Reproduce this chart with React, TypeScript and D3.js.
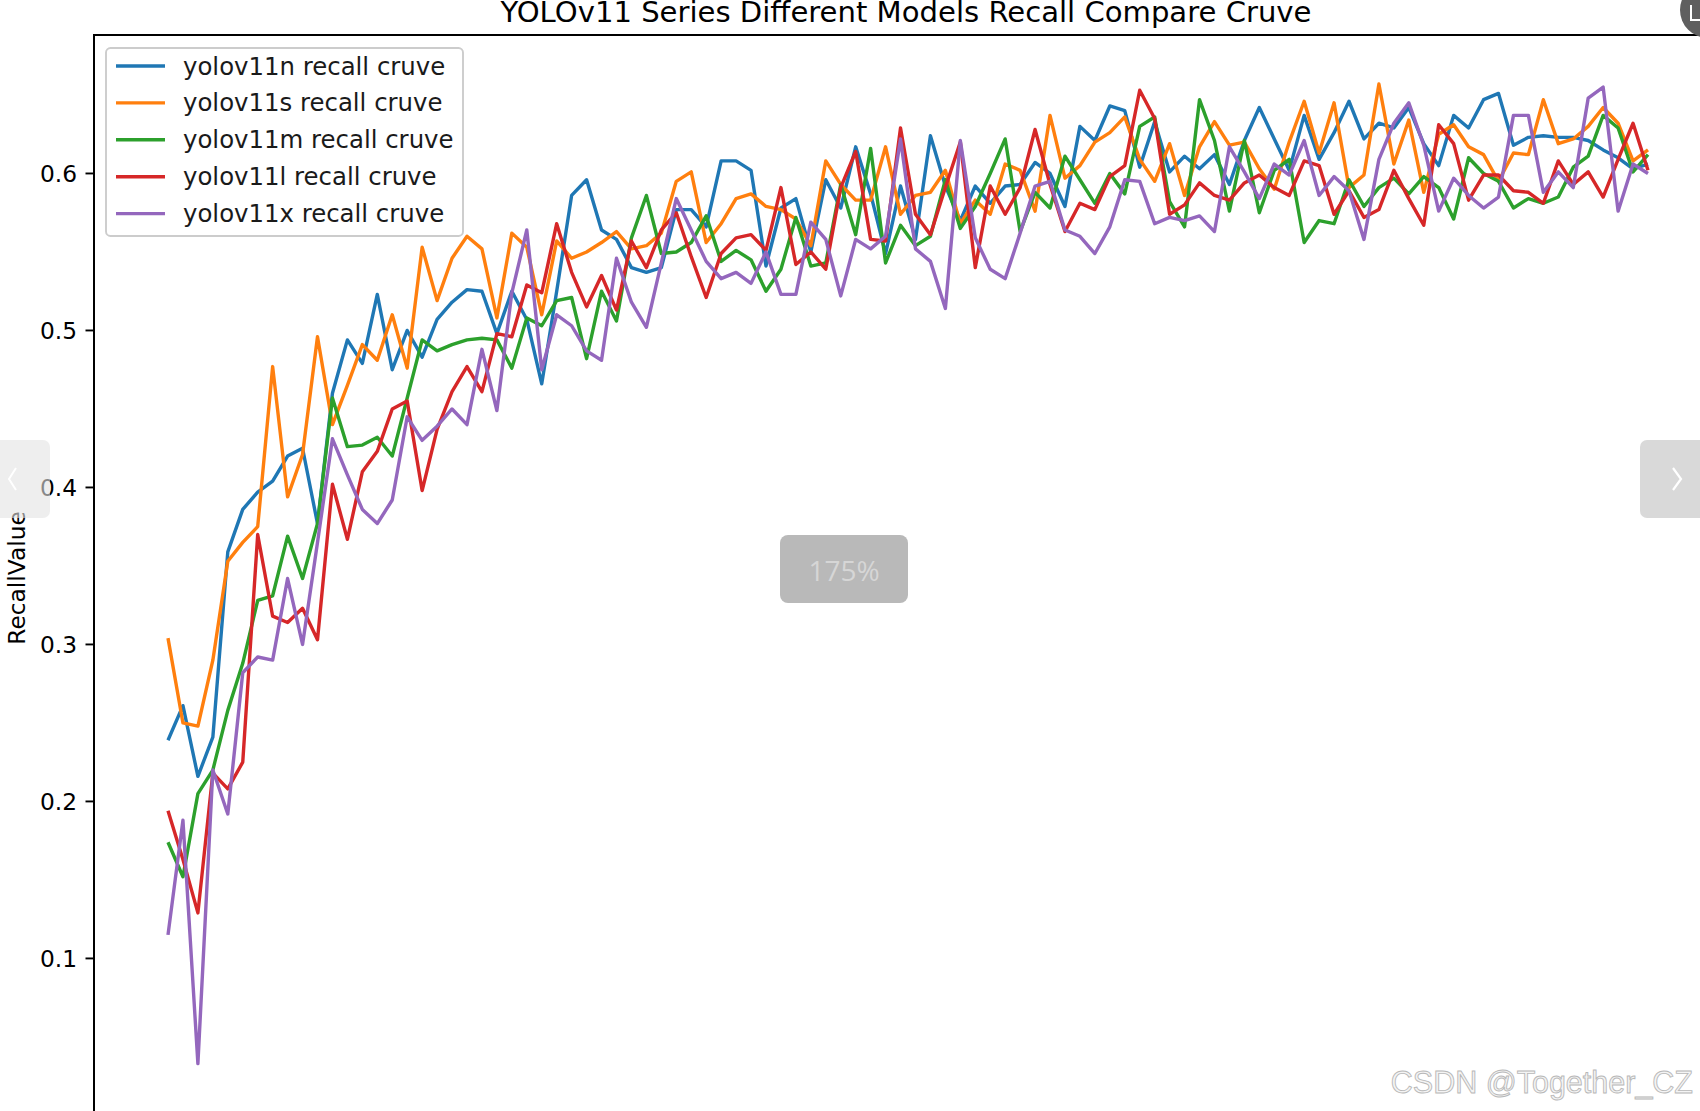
import React from "react";
import * as d3 from "d3";

const epochs: number[] = Array.from({ length: 100 }, (_, i) => i);

const yolov11n = [0.239,0.261,0.216,0.241,0.359,0.386,0.397,0.404,0.420,0.425,
0.377,0.460,0.494,0.479,0.523,0.475,0.500,0.483,0.507,0.518,
0.526,0.525,0.498,0.525,0.507,0.466,0.525,0.586,0.596,0.564,
0.558,0.540,0.537,0.540,0.577,0.577,0.566,0.608,0.608,0.602,
0.541,0.578,0.584,0.550,0.596,0.578,0.617,0.587,0.549,0.592,
0.558,0.624,0.592,0.570,0.592,0.581,0.592,0.593,0.607,0.600,
0.579,0.630,0.621,0.643,0.640,0.604,0.633,0.601,0.611,0.603,
0.612,0.593,0.621,0.642,0.622,0.602,0.637,0.609,0.626,0.646,
0.622,0.632,0.629,0.642,0.619,0.605,0.637,0.629,0.647,0.651,
0.618,0.623,0.624,0.623,0.623,0.621,0.615,0.610,0.603,0.606];

const yolov11s = [0.304,0.250,0.248,0.290,0.353,0.365,0.375,0.477,0.394,0.421,
0.496,0.440,0.465,0.491,0.481,0.510,0.476,0.553,0.519,0.546,
0.560,0.552,0.508,0.562,0.553,0.510,0.557,0.546,0.550,0.556,
0.563,0.552,0.554,0.562,0.595,0.601,0.556,0.568,0.584,0.587,
0.579,0.577,0.571,0.554,0.608,0.593,0.583,0.583,0.617,0.574,
0.586,0.588,0.602,0.568,0.583,0.574,0.606,0.602,0.576,0.637,
0.597,0.605,0.620,0.626,0.636,0.609,0.595,0.619,0.586,0.617,
0.633,0.618,0.620,0.603,0.590,0.620,0.646,0.613,0.645,0.591,
0.599,0.657,0.606,0.634,0.588,0.625,0.631,0.617,0.612,0.595,
0.613,0.612,0.647,0.619,0.622,0.630,0.642,0.632,0.608,0.615];

const yolov11m = [0.174,0.152,0.205,0.220,0.258,0.288,0.328,0.331,0.369,0.342,
0.377,0.457,0.426,0.427,0.432,0.420,0.457,0.494,0.487,0.491,
0.494,0.495,0.494,0.476,0.508,0.503,0.519,0.521,0.482,0.525,
0.506,0.559,0.586,0.549,0.550,0.556,0.573,0.544,0.551,0.545,
0.525,0.539,0.572,0.541,0.543,0.593,0.561,0.616,0.543,0.567,
0.554,0.560,0.596,0.565,0.579,0.600,0.622,0.563,0.588,0.578,
0.611,0.596,0.581,0.600,0.587,0.630,0.636,0.582,0.566,0.647,
0.621,0.576,0.621,0.575,0.602,0.609,0.556,0.570,0.568,0.596,
0.579,0.591,0.597,0.587,0.598,0.591,0.571,0.610,0.600,0.595,
0.578,0.584,0.581,0.585,0.604,0.611,0.637,0.629,0.601,0.612];

const yolov11l = [0.194,0.163,0.129,0.218,0.208,0.225,0.370,0.318,0.314,0.323,
0.303,0.402,0.367,0.410,0.423,0.450,0.455,0.398,0.437,0.461,
0.477,0.461,0.498,0.496,0.529,0.524,0.568,0.537,0.515,0.535,
0.513,0.557,0.540,0.564,0.575,0.547,0.521,0.549,0.559,0.561,
0.551,0.591,0.542,0.550,0.539,0.591,0.614,0.558,0.557,0.629,
0.574,0.561,0.591,0.620,0.540,0.592,0.574,0.591,0.628,0.593,
0.563,0.581,0.577,0.598,0.605,0.653,0.635,0.574,0.580,0.594,
0.586,0.583,0.594,0.599,0.591,0.586,0.608,0.605,0.574,0.589,
0.572,0.577,0.602,0.584,0.567,0.631,0.619,0.583,0.599,0.599,
0.589,0.588,0.581,0.608,0.593,0.601,0.585,0.609,0.632,0.602];

const yolov11x = [0.115,0.188,0.033,0.220,0.192,0.282,0.292,0.290,0.342,0.300,
0.365,0.431,0.408,0.386,0.377,0.392,0.445,0.430,0.439,0.450,
0.440,0.488,0.449,0.524,0.564,0.475,0.510,0.503,0.487,0.481,
0.546,0.518,0.502,0.543,0.584,0.564,0.544,0.533,0.537,0.530,
0.550,0.523,0.523,0.569,0.558,0.522,0.558,0.552,0.560,0.622,
0.552,0.544,0.514,0.621,0.559,0.539,0.533,0.562,0.592,0.595,
0.564,0.560,0.549,0.566,0.596,0.595,0.568,0.572,0.570,0.573,
0.563,0.617,0.601,0.584,0.606,0.599,0.621,0.586,0.598,0.589,
0.558,0.609,0.632,0.645,0.618,0.576,0.597,0.586,0.578,0.585,
0.637,0.637,0.588,0.601,0.591,0.648,0.655,0.576,0.606,0.600];

const seriesLabels = [
  "yolov11n recall cruve",
  "yolov11s recall cruve",
  "yolov11m recall cruve",
  "yolov11l recall cruve",
  "yolov11x recall cruve",
];
const seriesColors = ["#1f77b4", "#ff7f0e", "#2ca02c", "#d62728", "#9467bd"];
const yTicks = [0.1, 0.2, 0.3, 0.4, 0.5, 0.6];
const titleText = "YOLOv11 Series Different Models Recall Compare Cruve";
const yLabelText = "RecallValue";

const W = 1700;
const H = 1111;
const FONT = "'DejaVu Sans', sans-serif";

export default function App() {
  const allSeries = [yolov11n, yolov11s, yolov11m, yolov11l, yolov11x];
  const left = 94;
  const top = 35;
  const x = d3.scaleLinear().domain([-4.95, 103.95]).range([left, left + 1628]);
  const y = d3.scaleLinear().domain([0.0018, 0.6882]).range([1112.6, top]);
  const line = d3
    .line<number>()
    .x((_, i) => x(epochs[i]))
    .y((d) => y(d));

  const fs = 23.3;
  const legendFs = 24.4;
  const legendX = 106;
  const legendY = 48;
  const legendW = 357;
  const legendH = 188;
  const rowY = (i: number) => 66 + i * 36.9;

  return (
    <svg
      width={W}
      height={H}
      style={{ position: "absolute", left: 0, top: 0, background: "#fff" }}
      fontFamily={FONT}
    >
      <rect x={0} y={0} width={W} height={H} fill="#fff" />
      <defs>
        <clipPath id="plotclip">
          <rect x={left} y={top} width={1700} height={1200} />
        </clipPath>
      </defs>

      {/* title */}
      <text x={906} y={22} fontSize={29.1} textAnchor="middle" fill="#000">
        {titleText}
      </text>

      {/* series */}
      <g clipPath="url(#plotclip)">
        {allSeries.map((s, k) => (
          <path
            key={k}
            d={line(s) || ""}
            fill="none"
            stroke={seriesColors[k]}
            strokeWidth={3.4}
            strokeLinejoin="round"
            strokeLinecap="butt"
          />
        ))}
      </g>

      {/* spines */}
      <line x1={left} y1={top} x2={left} y2={H + 10} stroke="#000" strokeWidth={2} />
      <line x1={left - 1} y1={top} x2={W + 10} y2={top} stroke="#000" strokeWidth={2} />

      {/* y ticks */}
      {yTicks.map((t) => (
        <g key={t}>
          <line x1={left - 8.5} x2={left} y1={y(t)} y2={y(t)} stroke="#000" strokeWidth={1.9} />
          <text
            x={left - 17}
            y={y(t)}
            fontSize={fs}
            textAnchor="end"
            dominantBaseline="central"
            fill="#000"
          >
            {t.toFixed(1)}
          </text>
        </g>
      ))}

      {/* y label */}
      <text
        transform={`translate(16, 578) rotate(-90)`}
        fontSize={fs}
        textAnchor="middle"
        dominantBaseline="central"
        fill="#000"
      >
        {yLabelText}
      </text>

      {/* legend */}
      <rect
        x={legendX}
        y={legendY}
        width={legendW}
        height={legendH}
        rx={4.5}
        fill="#fff"
        fillOpacity={0.8}
        stroke="#cccccc"
        strokeWidth={1.9}
      />
      {seriesLabels.map((lab, i) => (
        <g key={lab}>
          <line
            x1={116}
            x2={165}
            y1={rowY(i)}
            y2={rowY(i)}
            stroke={seriesColors[i]}
            strokeWidth={3.4}
          />
          <text x={183} y={rowY(i)} fontSize={legendFs} dominantBaseline="central" fill="#1a1a1a">
            {lab}
          </text>
        </g>
      ))}

      {/* viewer overlays */}
      <rect x={-10} y={440} width={60} height={78} rx={7} fill="#e2e2e2" fillOpacity={0.6} />
      <path d="M 16 468 L 9 479 L 16 490" fill="none" stroke="#fff" strokeWidth={2} />
      <rect x={1640} y={440} width={80} height={78} rx={7} fill="#cfcfcf" fillOpacity={0.8} />
      <path d="M 1673 468 L 1681 479 L 1673 490" fill="none" stroke="#fff" strokeWidth={2.2} />

      <rect x={780} y={535} width={128} height={68} rx={8} fill="#b9b9b9" />
      <text
        x={844}
        y={570}
        fontSize={28}
        fontFamily="'Open Sans', sans-serif"
        textAnchor="middle"
        dominantBaseline="central"
        fill="#d6d6d6"
      >
        175%
      </text>

      <circle cx={1708} cy={10} r={28} fill="#5f5f5f" />
      <path d="M 1691 5 L 1691 20 L 1700 20" fill="none" stroke="#fff" strokeWidth={2} />

      <text
        x={1693}
        y={1093}
        fontSize={30.5}
        fontFamily="'Liberation Sans', Arial, sans-serif"
        textAnchor="end"
        fill="#f4f4f4"
        stroke="#b8b8b8"
        strokeWidth={0.9}
      >
        CSDN @Together_CZ
      </text>
    </svg>
  );
}
